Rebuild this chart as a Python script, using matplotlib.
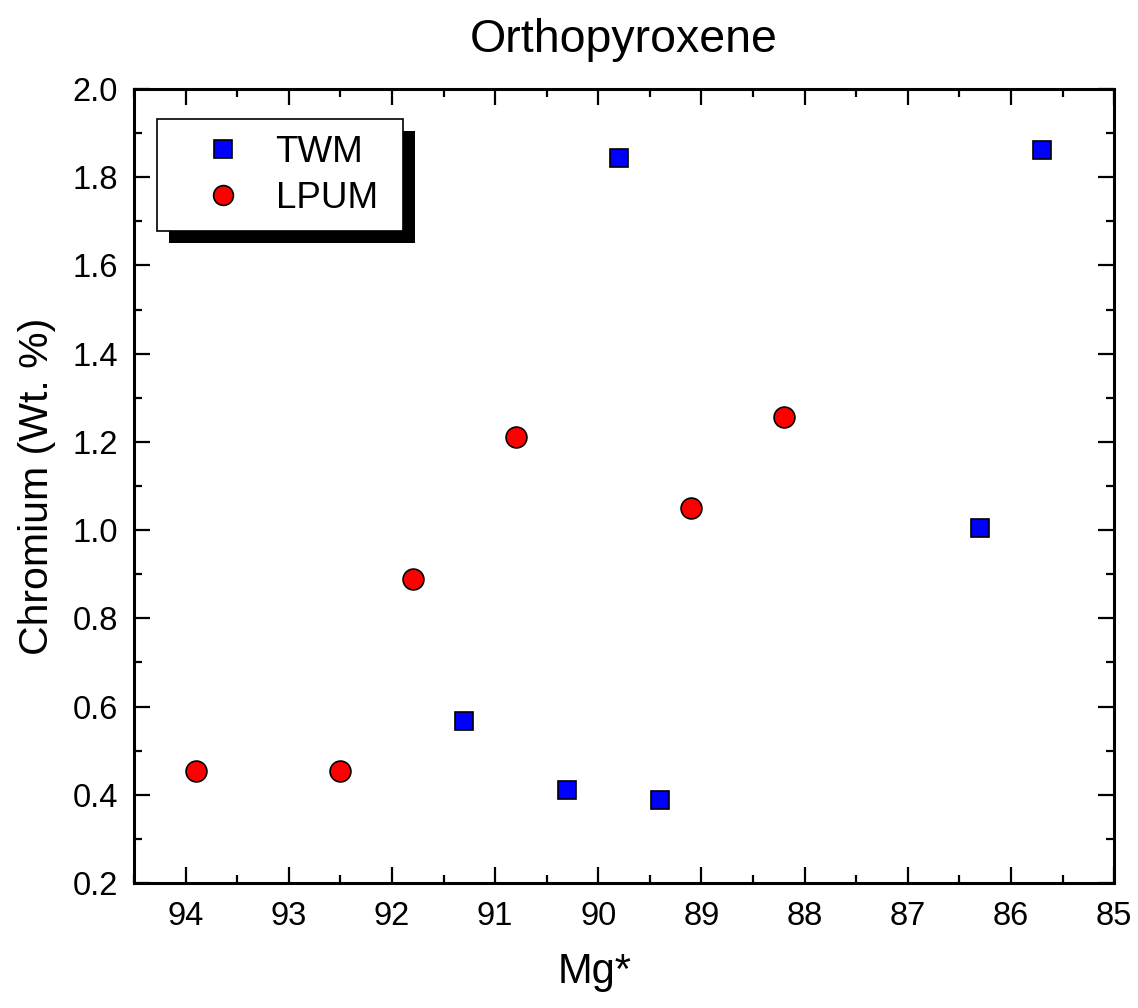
import matplotlib
matplotlib.use("Agg")
import matplotlib.pyplot as plt
from matplotlib.patches import Rectangle
from matplotlib.ticker import MultipleLocator, FormatStrFormatter

plt.rcParams['font.family'] = ['Liberation Sans', 'DejaVu Sans']

# data
twm_mg = [89.8, 85.7, 86.3, 91.3, 90.3, 89.4]
twm_cr = [1.844, 1.862, 1.005, 0.567, 0.410, 0.388]
lpum_mg = [93.9, 92.5, 91.8, 90.8, 89.1, 88.2]
lpum_cr = [0.453, 0.455, 0.889, 1.211, 1.050, 1.256]

fig = plt.figure(figsize=(11.38, 10.08), dpi=100)
ax = fig.add_axes([0.1178, 0.124, 0.8612, 0.7877])

ax.plot(twm_mg, twm_cr, 's', ms=13.5, mfc='#0000ff', mec='black', mew=1.2,
        label='TWM', zorder=3)
ax.plot(lpum_mg, lpum_cr, 'o', ms=15, mfc='#ff0000', mec='black', mew=1.2,
        label='LPUM ', zorder=3)

ax.set_xlim(94.5, 85)
ax.set_ylim(0.2, 2.0)
ax.xaxis.set_major_locator(MultipleLocator(1))
ax.xaxis.set_minor_locator(MultipleLocator(0.5))
ax.yaxis.set_major_locator(MultipleLocator(0.2))
ax.yaxis.set_minor_locator(MultipleLocator(0.1))
ax.yaxis.set_major_formatter(FormatStrFormatter('%.1f'))

ax.tick_params(which='both', direction='in', top=True, right=True,
               labelsize=23.5, width=1.6, color='black')
ax.tick_params(which='major', length=11.5, pad=11.5)
ax.tick_params(axis='x', which='major', pad=13)
ax.tick_params(which='minor', length=6)
for s in ax.spines.values():
    s.set_linewidth(2.2)

ax.set_xlabel('Mg*', fontsize=30, labelpad=14, x=0.47)
ax.set_ylabel('Chromium (Wt. %)', fontsize=29.5, labelpad=12)
ax.set_title('Orthopyroxene', fontsize=33.5, pad=27)

leg = ax.legend(loc='upper left', bbox_to_anchor=(0.0235, 0.962),
                borderaxespad=0, fontsize=26.5, markerscale=0.95,
                fancybox=False, framealpha=1, edgecolor='black',
                handlelength=2.75, handletextpad=0.05, borderpad=0.42,
                labelspacing=0.3)
leg.get_frame().set_linewidth(1.2)

fig.canvas.draw()
bb = leg.get_window_extent()
W, H = fig.bbox.width, fig.bbox.height
off = 12
ax.add_patch(Rectangle(((bb.x0 + off) / W, (bb.y0 - off) / H),
                       bb.width / W, bb.height / H, transform=fig.transFigure,
                       facecolor='black', edgecolor='none', zorder=4.5,
                       clip_on=False))

fig.savefig('out.png', dpi=100)
